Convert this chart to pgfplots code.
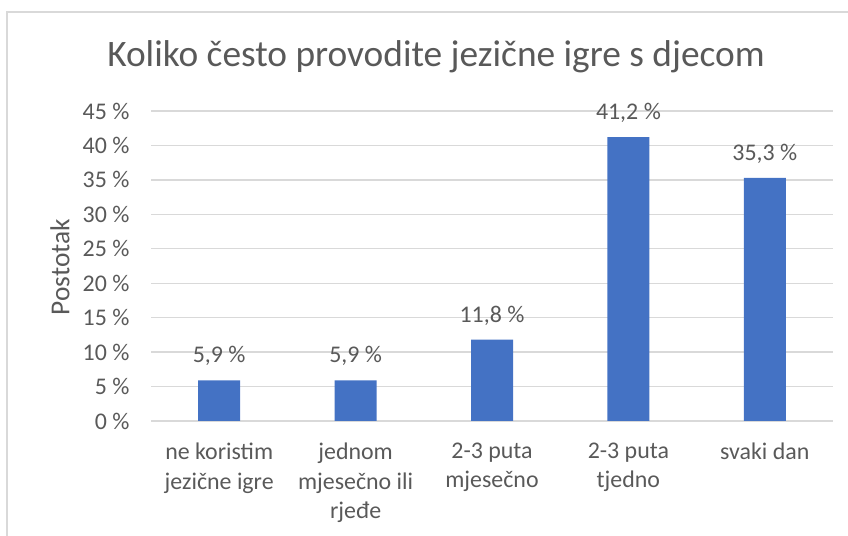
\documentclass[border=0pt]{standalone}
\usepackage{pgfplots}
\pgfplotsset{compat=1.18}
\usepackage{fontspec}
\setmainfont{Carlito}
\definecolor{txt}{RGB}{89,89,89}
\definecolor{grd}{RGB}{217,217,217}
\definecolor{barc}{RGB}{68,114,196}
\begin{document}
\begin{tikzpicture}[x=1bp,y=1bp]
\useasboundingbox (0,0) rectangle (848,536);
\draw[grd, line width=1.3bp] (7,-5) -- (7,524) -- (860,524);
\node[txt, font=\fontsize{37.5}{44}\selectfont] at (436,479) {Koliko često provodite jezične igre s djecom};
\node[txt, rotate=90, font=\fontsize{27.5}{32}\selectfont] at (60,269) {Postotak};
\begin{axis}[
  at={(151bp,115bp)}, anchor=south west,
  scale only axis, width=682bp, height=310bp,
  ybar, bar width=42bp,
  xmin=-0.5, xmax=4.5, ymin=0, ymax=45,
  ytick={0,5,...,45},
  xtick={0,1,2,3,4},
  xticklabels={{ne koristim\\jezične igre},{jednom\\mjesečno ili\\rjeđe},{2-3 puta\\mjesečno},{2-3 puta\\tjedno},{svaki dan}},
  /pgf/number format/assume math mode=true,
  yticklabel={\pgfmathprintnumber{\tick}~\%},
  ymajorgrids, grid style={grd, line width=1.3bp},
  axis line style={draw=none},
  major tick length=0pt,
  tick label style={txt, font=\fontsize{24}{30}\selectfont},
  xticklabel style={align=center, anchor=north, yshift=-18bp},
  yticklabel style={xshift=-18bp},
  nodes near coords={\pgfmathprintnumber[fixed, fixed zerofill, precision=1, use comma]{\pgfplotspointmeta}~\%},
  every node near coord/.append style={txt, font=\fontsize{24}{28}\selectfont, yshift=11bp},
  clip=false,
]
\addplot[fill=barc, draw=none] coordinates {(0,5.9) (1,5.9) (2,11.8) (3,41.2) (4,35.3)};
\end{axis}
\end{tikzpicture}
\end{document}
